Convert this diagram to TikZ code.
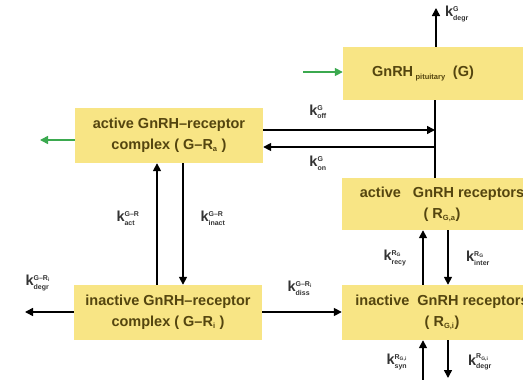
\documentclass[tikz,border=0pt]{standalone}
\usepackage{fontspec}
\setmainfont{Liberation Sans}
\usepackage{amsmath}
\usetikzlibrary{arrows.meta}
\definecolor{boxfill}{HTML}{F8E585}
\definecolor{boxtext}{HTML}{54450F}
\definecolor{flow}{HTML}{3BA94F}
% rate constant: k with superscript and subscript
\newcommand\rk[2]{k$^{\text{\fontsize{7}{7}\selectfont #1}}_{\text{\fontsize{7}{7}\selectfont #2}}$}
\newcommand\smallsub[1]{$_{\text{\fontsize{7.5}{8}\selectfont #1}}$}

\tikzset{
  pool/.style={fill=boxfill, draw=none, text=boxtext,
    font=\bfseries\fontsize{14.5}{21}\selectfont, align=center,
    inner sep=0pt, minimum height=55pt},
  rate/.style={font=\bfseries\fontsize{14.5}{14.5}\selectfont, text=black!80, inner sep=0pt},
  conv/.style={line width=1.6pt, -{Triangle[length=8pt,width=8pt]}},
  link/.style={line width=1.6pt},
  feed/.style={conv, draw=flow},
}

\begin{document}
\begin{tikzpicture}[x=1pt,y=-1pt]
\useasboundingbox (0,0) rectangle (523,380);

% compartments
\node[pool, minimum width=180pt, minimum height=53pt] (G) at (433,73.5)
  {GnRH\,\smallsub{pituitary}\enspace(G)\hspace*{20pt}};
\node[pool, minimum width=188pt] (AC) at (169,135.5)
  {active GnRH–receptor\\complex ( G–R\smallsub{a} )};
\node[pool, minimum width=188pt] (IC) at (168,312.5)
  {inactive GnRH–receptor\\complex ( G–R\smallsub{i} )};
\node[pool, minimum width=200pt, minimum height=52pt] (AR) at (442,204)
  {active\ \ \ GnRH receptors\\( R\smallsub{G,a})};
\node[pool, minimum width=200pt] (IR) at (442,312.5)
  {inactive\ \ GnRH receptors\\( R\smallsub{G,i})};

% free ends and guide positions
\coordinate (gtop) at (436,8);
\coordinate (gin) at (303,72);
\coordinate (aout) at (40,140);
\coordinate (icout) at (25,312);
\coordinate (xv) at (435,0);
\coordinate (yoff) at (0,130);
\coordinate (yon) at (0,147);
\coordinate (xact) at (157,0);
\coordinate (xinact) at (183,0);
\coordinate (xup) at (423,0);
\coordinate (xdown) at (448,0);
\coordinate (synin) at (423,380);
\coordinate (degout) at (448,378);

% connectors
\draw[conv] (G.north -| gtop) -- (gtop);
\draw[feed] (gin) -- (G.west |- gin);
\draw[feed] (AC.west |- aout) -- (aout);
\draw[link] (G.south -| xv) -- (AR.north -| xv);
\draw[conv] (AC.east |- yoff) -- (xv |- yoff);
\draw[conv] (xv |- yon) -- (AC.east |- yon);
\draw[conv] (IC.north -| xact) -- (AC.south -| xact);
\draw[conv] (AC.south -| xinact) -- (IC.north -| xinact);
\draw[conv] (IC.west |- icout) -- (icout);
\draw[conv] (IC.east |- icout) -- (IR.west |- icout);
\draw[conv] (IR.north -| xup) -- (AR.south -| xup);
\draw[conv] (AR.south -| xdown) -- (IR.north -| xdown);
\draw[conv] (synin) -- (IR.south -| synin);
\draw[conv] (IR.south -| degout) -- (degout);

% rate constants
\node[rate] (kdg) at (457,14) {\rk{G}{degr}};
\node[rate] (koff) at (318,112) {\rk{G}{off}};
\node[rate] (kon) at (318,163) {\rk{G}{on}};
\node[rate] (kact) at (128,218) {\rk{G–R}{act}};
\node[rate] (kinact) at (213,218) {\rk{G–R}{inact}};
\node[rate] (kdgc) at (38,283) {\rk{G–R$_\text{i}$}{degr}};
\node[rate] (kdiss) at (300,288) {\rk{G–R$_\text{i}$}{diss}};
\node[rate] (krecy) at (395,258) {\rk{R$_\text{G}$}{recy}};
\node[rate] (kinter) at (478,258) {\rk{R$_\text{G}$}{inter}};
\node[rate] (ksyn) at (397,362) {\rk{R$_\text{G,i}$}{syn}};
\node[rate] (kdgr) at (480,362) {\rk{R$_\text{G,i}$}{degr}};
\end{tikzpicture}
\end{document}
